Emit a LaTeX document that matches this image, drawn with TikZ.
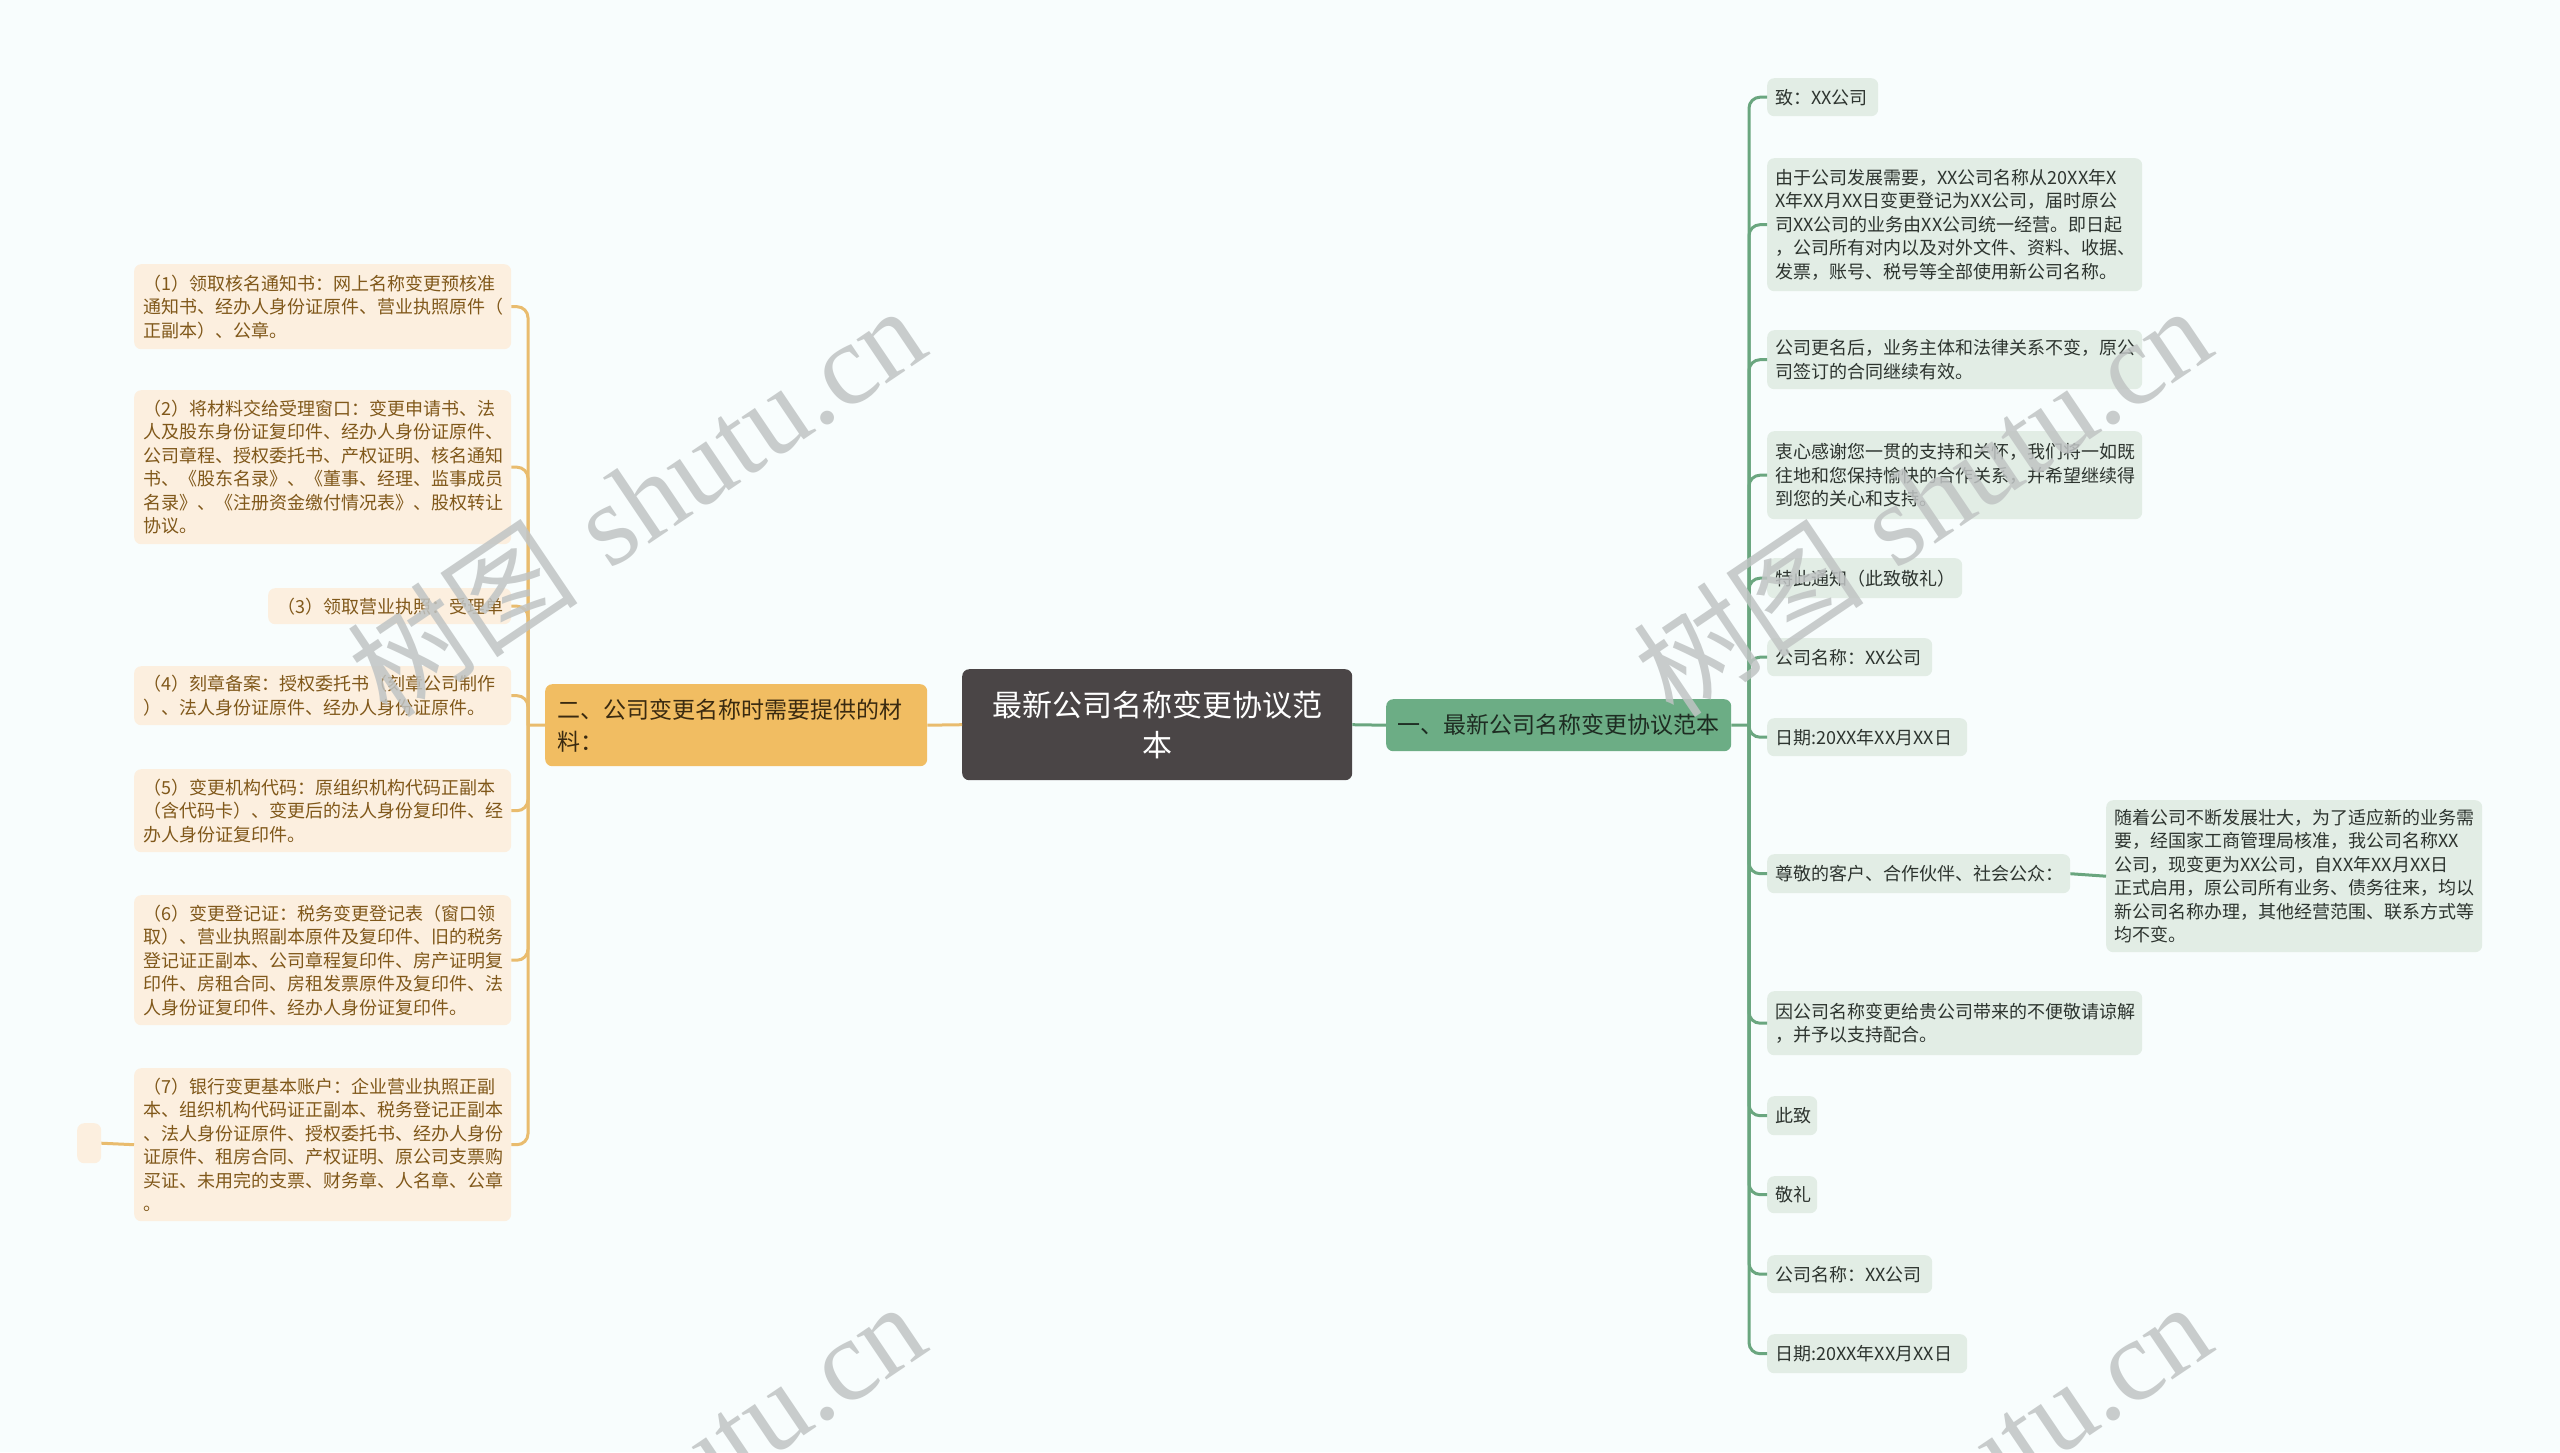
\documentclass[tikz,border=0pt]{standalone}
\usepackage{fontspec}
\newfontfamily\cjk{Noto Sans CJK SC}
\newfontfamily\wmserif{Liberation Serif}
\definecolor{bg}{RGB}{248,253,253}
\definecolor{lfill}{RGB}{252,239,223}
\definecolor{ltext}{RGB}{128,88,26}
\definecolor{lline}{RGB}{233,188,110}
\definecolor{lmainfill}{RGB}{241,189,98}
\definecolor{lmaintext}{RGB}{58,42,16}
\definecolor{rfill}{RGB}{226,237,229}
\definecolor{rtext}{RGB}{45,52,47}
\definecolor{rline}{RGB}{106,166,127}
\definecolor{rmainfill}{RGB}{108,173,133}
\definecolor{rmaintext}{RGB}{30,44,34}
\definecolor{cfill}{RGB}{74,69,70}
\definecolor{wm}{RGB}{192,196,196}
\tikzset{
  box/.style={anchor=north west, rounded corners=7, inner ysep=3, align=left},
  lchild/.style={box, fill=lfill, text=ltext, inner xsep=9, font=\cjk\fontsize{18}{23.5}\selectfont},
  rchild/.style={box, fill=rfill, text=rtext, inner xsep=8, font=\cjk\fontsize{18}{23.5}\selectfont},
  lconn/.style={draw=lline, line width=3, rounded corners=11},
  rconn/.style={draw=rline, line width=3, rounded corners=11},
  wmark/.style={text=wm, text opacity=0.85, rotate=34, inner sep=0, font=\fontsize{116}{116}\selectfont},
}
\begin{document}
\begin{tikzpicture}[x=1pt,y=-1pt]
\useasboundingbox (0,0) rectangle (2560,1452);
\fill[bg] (0,0) rectangle (2560,1452);

% central and main nodes
\node[box, fill=cfill, text=white, align=center, minimum width=390, minimum height=111, inner sep=0,
      font=\cjk\fontsize{30}{40}\selectfont] (c) at (962,669) {最新公司名称变更协议范\\本};
\node[box, fill=lmainfill, text=lmaintext, text width=358, inner xsep=12, minimum height=82,
      font=\cjk\fontsize{23}{32}\selectfont] (lm) at (545,684) {二、公司变更名称时需要提供的材\\料：};
\node[box, fill=rmainfill, text=rmaintext, text width=323, inner xsep=11, minimum height=52,
      font=\cjk\fontsize{23}{30}\selectfont] (rm) at (1386,699) {一、最新公司名称变更协议范本};

% left children
\node[lchild, text width=359, minimum height=85] (l1) at (134,264) {（1）领取核名通知书：网上名称变更预核准\\通知书、经办人身份证原件、营业执照原件（\\正副本）、公章。};
\node[lchild, text width=359, minimum height=154] (l2) at (134,390) {（2）将材料交给受理窗口：变更申请书、法\\人及股东身份证复印件、经办人身份证原件、\\公司章程、授权委托书、产权证明、核名通知\\书、《股东名录》、《董事、经理、监事成员\\名录》、《注册资金缴付情况表》、股权转让\\协议。};
\node[lchild, text width=225, minimum height=36] (l3) at (268,588) {（3）领取营业执照：受理单};
\node[lchild, text width=359, minimum height=59] (l4) at (134,666) {（4）刻章备案：授权委托书（刻章公司制作\\）、法人身份证原件、经办人身份证原件。};
\node[lchild, text width=359, minimum height=83] (l5) at (134,769) {（5）变更机构代码：原组织机构代码正副本\\（含代码卡）、变更后的法人身份复印件、经\\办人身份证复印件。};
\node[lchild, text width=359, minimum height=130] (l6) at (134,895) {（6）变更登记证：税务变更登记表（窗口领\\取）、营业执照副本原件及复印件、旧的税务\\登记证正副本、公司章程复印件、房产证明复\\印件、房租合同、房租发票原件及复印件、法\\人身份证复印件、经办人身份证复印件。};
\node[lchild, text width=359, minimum height=153] (l7) at (134,1068) {（7）银行变更基本账户：企业营业执照正副\\本、组织机构代码证正副本、税务登记正副本\\、法人身份证原件、授权委托书、经办人身份\\证原件、租房合同、产权证明、原公司支票购\\买证、未用完的支票、财务章、人名章、公章\\。};
\node[box, fill=lfill, minimum width=24, minimum height=40, inner sep=0] (tiny) at (77,1123) {};

% right children
\node[rchild, text width=95, minimum height=38] (r1) at (1767,78) {致：XX公司};
\node[rchild, text width=359, minimum height=133] (r2) at (1767,158) {由于公司发展需要，XX公司名称从20XX年X\\X年XX月XX日变更登记为XX公司，届时原公\\司XX公司的业务由XX公司统一经营。即日起\\，公司所有对内以及对外文件、资料、收据、\\发票，账号、税号等全部使用新公司名称。};
\node[rchild, text width=359, minimum height=59] (r3) at (1767,330) {公司更名后，业务主体和法律关系不变，原公\\司签订的合同继续有效。};
\node[rchild, text width=359, minimum height=88] (r4) at (1767,431) {衷心感谢您一贯的支持和关怀，我们将一如既\\往地和您保持愉快的合作关系，并希望继续得\\到您的关心和支持。};
\node[rchild, text width=179, minimum height=40] (r5) at (1767,558) {特此通知（此致敬礼）};
\node[rchild, text width=149, minimum height=38] (r6) at (1767,638) {公司名称：XX公司};
\node[rchild, text width=184, minimum height=38] (r7) at (1767,718) {日期:20XX年XX月XX日};
\node[rchild, text width=287, minimum height=39] (r8) at (1767,854) {尊敬的客户、合作伙伴、社会公众：};
\node[rchild, text width=360, minimum height=152] (s8) at (2106,800) {随着公司不断发展壮大，为了适应新的业务需\\要，经国家工商管理局核准，我公司名称XX\\公司，现变更为XX公司，自XX年XX月XX日\\正式启用，原公司所有业务、债务往来，均以\\新公司名称办理，其他经营范围、联系方式等\\均不变。};
\node[rchild, text width=359, minimum height=64] (r9) at (1767,991) {因公司名称变更给贵公司带来的不便敬请谅解\\，并予以支持配合。};
\node[rchild, text width=34, minimum height=39] (r10) at (1767,1096) {此致};
\node[rchild, text width=34, minimum height=37] (r11) at (1767,1176) {敬礼};
\node[rchild, text width=149, minimum height=38] (r12) at (1767,1255) {公司名称：XX公司};
\node[rchild, text width=184, minimum height=39] (r13) at (1767,1334) {日期:20XX年XX月XX日};

% connectors
\coordinate (lj) at (528,725);
\coordinate (rj) at (1749,725);
\draw[lconn] (c.west) -- (lm.east);
\draw[rconn] (c.east) -- (rm.west);
\draw[lconn] (lm.west) -- (lj);
\draw[rconn] (rm.east) -- (rj);
\foreach \n in {l1,l2,l3,l4,l5,l6,l7} { \draw[lconn] (lj) |- (\n.east); }
\foreach \n in {r1,r2,r3,r4,r5,r6,r7,r8,r9,r10,r11,r12,r13} { \draw[rconn] (rj) |- (\n.west); }
\draw[rconn] (r8.east) -- (s8.west);
\draw[lconn] (l7.west) -- (tiny.east);

% watermarks
\begin{scope}
\clip (0,0) rectangle (2560,1452);
\node[wmark] (w1) at (636,500) {{\cjk 树图} {\wmserif shutu.cn}};
\node[wmark] (w2) at (1922,500) {{\cjk 树图} {\wmserif shutu.cn}};
\node[wmark] (w3) at (636,1496) {{\cjk 树图} {\wmserif shutu.cn}};
\node[wmark] (w4) at (1922,1496) {{\cjk 树图} {\wmserif shutu.cn}};
\end{scope}
\end{tikzpicture}
\end{document}
